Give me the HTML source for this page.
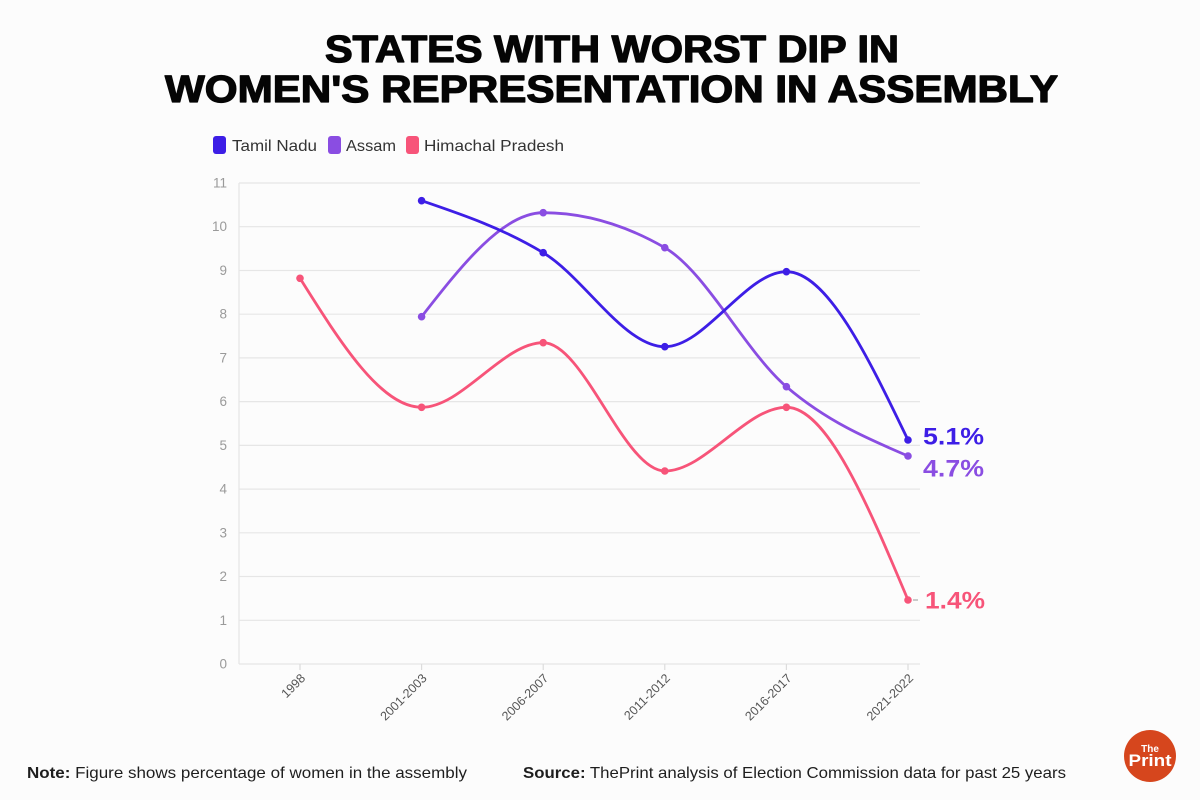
<!DOCTYPE html>
<html>
<head>
<meta charset="utf-8">
<style>
  html,body{margin:0;padding:0;background:#fcfcfc;}
  svg{display:block;}
  text{font-family:"Liberation Sans", sans-serif;}
</style>
</head>
<body>
<svg width="1200" height="800" viewBox="0 0 1200 800" xmlns="http://www.w3.org/2000/svg">
  <rect x="0" y="0" width="1200" height="800" fill="#fcfcfc"/>

  <!-- Title -->
  <text x="325" y="62" font-size="38" font-weight="bold" fill="#050505" stroke="#050505" stroke-width="1.3" stroke-linejoin="round" textLength="574" lengthAdjust="spacingAndGlyphs">STATES WITH WORST DIP IN</text>
  <text x="165" y="102" font-size="38" font-weight="bold" fill="#050505" stroke="#050505" stroke-width="1.3" stroke-linejoin="round" textLength="893" lengthAdjust="spacingAndGlyphs">WOMEN'S REPRESENTATION IN ASSEMBLY</text>

  <!-- Legend -->
  <rect x="213" y="136" width="13" height="18" rx="3" fill="#3d1ee6"/>
  <text x="232" y="151" font-size="16" fill="#333" textLength="85" lengthAdjust="spacingAndGlyphs">Tamil Nadu</text>
  <rect x="328" y="136" width="13" height="18" rx="3" fill="#8a4de2"/>
  <text x="346" y="151" font-size="16" fill="#333" textLength="50" lengthAdjust="spacingAndGlyphs">Assam</text>
  <rect x="406" y="136" width="13" height="18" rx="3" fill="#f75479"/>
  <text x="424" y="151" font-size="16" fill="#333" textLength="140" lengthAdjust="spacingAndGlyphs">Himachal Pradesh</text>

  <!-- Gridlines -->
  <g stroke="#e6e6e6" stroke-width="1.2">
    <line x1="239" y1="183" x2="920" y2="183"/>
    <line x1="239" y1="226.7" x2="920" y2="226.7"/>
    <line x1="239" y1="270.5" x2="920" y2="270.5"/>
    <line x1="239" y1="314.2" x2="920" y2="314.2"/>
    <line x1="239" y1="357.9" x2="920" y2="357.9"/>
    <line x1="239" y1="401.6" x2="920" y2="401.6"/>
    <line x1="239" y1="445.4" x2="920" y2="445.4"/>
    <line x1="239" y1="489.1" x2="920" y2="489.1"/>
    <line x1="239" y1="532.8" x2="920" y2="532.8"/>
    <line x1="239" y1="576.5" x2="920" y2="576.5"/>
    <line x1="239" y1="620.3" x2="920" y2="620.3"/>
    <line x1="239" y1="664" x2="920" y2="664"/>
    <line x1="239" y1="183" x2="239" y2="664"/>
  </g>
  <!-- x ticks -->
  <g stroke="#dcdcdc" stroke-width="1.2">
    <line x1="300" y1="664" x2="300" y2="670"/>
    <line x1="421.6" y1="664" x2="421.6" y2="670"/>
    <line x1="543.2" y1="664" x2="543.2" y2="670"/>
    <line x1="664.8" y1="664" x2="664.8" y2="670"/>
    <line x1="786.4" y1="664" x2="786.4" y2="670"/>
    <line x1="908" y1="664" x2="908" y2="670"/>
  </g>

  <!-- Y labels -->
  <g font-size="13.5" fill="#9a9a9a" text-anchor="end">
    <text x="227" y="187.5">11</text>
    <text x="227" y="231.2">10</text>
    <text x="227" y="275">9</text>
    <text x="227" y="318.7">8</text>
    <text x="227" y="362.4">7</text>
    <text x="227" y="406.1">6</text>
    <text x="227" y="449.9">5</text>
    <text x="227" y="493.6">4</text>
    <text x="227" y="537.3">3</text>
    <text x="227" y="581">2</text>
    <text x="227" y="624.8">1</text>
    <text x="227" y="668.5">0</text>
  </g>

  <!-- X labels -->
  <g font-size="12.5" fill="#555" text-anchor="end">
    <text transform="translate(306,679) rotate(-45)">1998</text>
    <text transform="translate(427.6,679) rotate(-45)">2001-2003</text>
    <text transform="translate(549.2,679) rotate(-45)">2006-2007</text>
    <text transform="translate(670.8,679) rotate(-45)">2011-2012</text>
    <text transform="translate(792.4,679) rotate(-45)">2016-2017</text>
    <text transform="translate(914,679) rotate(-45)">2021-2022</text>
  </g>

  <!-- Series: Himachal Pradesh -->
  <path d="M300,278.3 C340.5,342.8 381.1,407.3 421.6,407.3 C462.1,407.3 503.1,342.7 543.2,342.7 C583.7,342.7 624.3,471 664.8,471 C705.3,471 745.9,407.3 786.4,407.3 C826.9,407.3 867.5,503.65 908,600" fill="none" stroke="#f75479" stroke-width="2.8" stroke-linecap="round"/>
  <g fill="#f75479">
    <circle cx="300" cy="278.3" r="3.8"/>
    <circle cx="421.6" cy="407.3" r="3.8"/>
    <circle cx="543.2" cy="342.7" r="3.8"/>
    <circle cx="664.8" cy="471" r="3.8"/>
    <circle cx="786.4" cy="407.3" r="3.8"/>
    <circle cx="908" cy="600" r="3.8"/>
  </g>

  <!-- Series: Assam -->
  <path d="M421.6,316.7 C462.1,264.7 503.1,212.7 543.2,212.7 C583.7,212.7 624.3,224.4 664.8,247.7 C705.3,271 745.9,352 786.4,386.7 C826.9,421.4 867.5,438.7 908,456" fill="none" stroke="#8a4de2" stroke-width="2.8" stroke-linecap="round"/>
  <g fill="#8a4de2">
    <circle cx="421.6" cy="316.7" r="3.8"/>
    <circle cx="543.2" cy="212.7" r="3.8"/>
    <circle cx="664.8" cy="247.7" r="3.8"/>
    <circle cx="786.4" cy="386.7" r="3.8"/>
    <circle cx="908" cy="456" r="3.8"/>
  </g>

  <!-- Series: Tamil Nadu -->
  <path d="M421.6,200.7 C462.1,214.5 503.1,228.4 543.2,252.7 C583.7,277 624.3,346.7 664.8,346.7 C705.3,346.7 745.9,271.7 786.4,271.7 C826.9,271.7 867.5,355.85 908,440" fill="none" stroke="#3d1ee6" stroke-width="2.8" stroke-linecap="round"/>
  <g fill="#3d1ee6">
    <circle cx="421.6" cy="200.7" r="3.8"/>
    <circle cx="543.2" cy="252.7" r="3.8"/>
    <circle cx="664.8" cy="346.7" r="3.8"/>
    <circle cx="786.4" cy="271.7" r="3.8"/>
    <circle cx="908" cy="440" r="3.8"/>
  </g>

  <!-- value labels -->
  <line x1="913" y1="600" x2="918" y2="600" stroke="#999" stroke-width="1"/>
  <text x="923" y="444.5" font-size="24" font-weight="bold" fill="#3d1ee6" textLength="61" lengthAdjust="spacingAndGlyphs">5.1%</text>
  <text x="923" y="476.5" font-size="24" font-weight="bold" fill="#8a4de2" textLength="61" lengthAdjust="spacingAndGlyphs">4.7%</text>
  <text x="925" y="608.5" font-size="24" font-weight="bold" fill="#f75479" textLength="60" lengthAdjust="spacingAndGlyphs">1.4%</text>

  <!-- Footer -->
  <text x="27" y="778" font-size="16" fill="#1e1e1e" textLength="440" lengthAdjust="spacingAndGlyphs"><tspan font-weight="bold">Note:</tspan> Figure shows percentage of women in the assembly</text>
  <text x="523" y="778" font-size="16" fill="#1e1e1e" textLength="543" lengthAdjust="spacingAndGlyphs"><tspan font-weight="bold">Source:</tspan> ThePrint analysis of Election Commission data for past 25 years</text>

  <!-- Logo -->
  <circle cx="1150" cy="756" r="26" fill="#d6461d"/>
  <text x="1150" y="752" font-family="Liberation Serif, serif" font-size="10" font-weight="bold" fill="#fff" text-anchor="middle">The</text>
  <text x="1150" y="766" font-family="Liberation Serif, serif" font-size="17" font-weight="bold" fill="#fff" text-anchor="middle" textLength="43" lengthAdjust="spacingAndGlyphs">Print</text>
</svg>
</body>
</html>
